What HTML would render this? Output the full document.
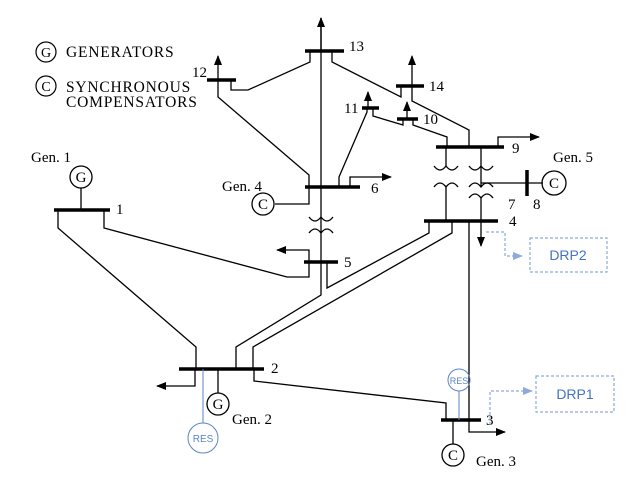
<!DOCTYPE html>
<html><head><style>html,body{margin:0;padding:0;background:#fff}svg{display:block}</style></head>
<body>
<svg width="632" height="496" viewBox="0 0 632 496" xmlns="http://www.w3.org/2000/svg" font-family="Liberation Serif, serif" font-size="13">
<defs>
<marker id="a" markerWidth="10" markerHeight="8" refX="9" refY="4" orient="auto" markerUnits="userSpaceOnUse"><path d="M0,0 L10,4 L0,8z" fill="#000"/></marker>
<marker id="b" markerWidth="10" markerHeight="8" refX="9" refY="4" orient="auto" markerUnits="userSpaceOnUse"><path d="M0,0 L10,4 L0,8z" fill="#8eaadb"/></marker>
</defs>
<!-- legend -->
<g fill="none" stroke="#000" stroke-width="1.2">
<circle cx="46" cy="52" r="10"/><circle cx="46" cy="86" r="10"/>
</g>
<text x="46" y="57" text-anchor="middle" font-size="14">G</text>
<text x="46" y="91" text-anchor="middle" font-size="14">C</text>
<g font-size="15.5" letter-spacing="0.8">
<text x="66" y="57">GENERATORS</text>
<text x="66" y="92">SYNCHRONOUS</text>
<text x="66" y="107">COMPENSATORS</text>
</g>
<!-- buses -->
<g stroke="#000" stroke-width="3.5">
<line x1="54" y1="210" x2="110" y2="210"/>
<line x1="179" y1="369" x2="264" y2="369"/>
<line x1="441" y1="420" x2="481" y2="420"/>
<line x1="424" y1="221" x2="498" y2="221"/>
<line x1="304" y1="262" x2="338" y2="262"/>
<line x1="305" y1="187" x2="360" y2="187"/>
<line x1="436" y1="147" x2="504" y2="147"/>
<line x1="397" y1="119" x2="418" y2="119"/>
<line x1="362" y1="108" x2="379" y2="108"/>
<line x1="207" y1="80" x2="236" y2="80"/>
<line x1="305" y1="51" x2="344" y2="51"/>
<line x1="396" y1="86" x2="424" y2="86"/>
<line x1="527" y1="170" x2="527" y2="196"/>
</g>
<g fill="none" stroke="#000" stroke-width="1.3">
<polyline points="58,210 58,228 196,347 196,369"/>
<polyline points="104,210 104,228 287,277 309,277 309,262"/>
<line x1="81" y1="188" x2="81" y2="210"/><circle cx="81" cy="177" r="11"/>
<line x1="218" y1="369" x2="218" y2="393"/><circle cx="218" cy="404" r="11"/>
<line x1="453" y1="420" x2="453" y2="444"/><circle cx="453" cy="455" r="11"/>
<polyline points="275,204 309,204 309,187"/><circle cx="263" cy="204" r="11"/>
<line x1="481" y1="183" x2="543" y2="183"/><circle cx="554" cy="183" r="12"/>
<polyline points="254,369 254,381 446,403 446,420"/>
<polyline points="469,221 469,432 505,432" marker-end="url(#a)"/>
<polyline points="195,369 195,386 157,386" marker-end="url(#a)"/>
<polyline points="321,18 321,295 236,347 236,369"/>
<polyline points="429,221 429,233 327,288 327,262"/>
<polyline points="452,221 452,233 253,347 253,369"/>
<polyline points="309,262 309,250 277,250" marker-end="url(#a)"/>
<line x1="481" y1="221" x2="481" y2="246" marker-end="url(#a)"/>
<line x1="321" y1="51" x2="321" y2="18" marker-end="url(#a)"/>
<polyline points="310,51 310,62 248,90 231,90 231,80"/>
<line x1="218" y1="80" x2="218" y2="56" marker-end="url(#a)"/>
<polyline points="218,80 218,97 309,175 309,187"/>
<polyline points="332,51 332,62 401,97 401,86"/>
<line x1="412" y1="86" x2="412" y2="56" marker-end="url(#a)"/>
<polyline points="412,86 412,101 469,130 469,147"/>
<line x1="368" y1="108" x2="368" y2="92" marker-end="url(#a)"/>
<polyline points="367,108 367,112 339,177 339,187"/>
<polyline points="373,108 373,116 403,125 403,119"/>
<line x1="407" y1="119" x2="407" y2="102" marker-end="url(#a)"/>
<polyline points="413,119 413,125 447,137 447,147"/>
<polyline points="350,187 350,177 391,177" marker-end="url(#a)"/>
<polyline points="498,147 498,137 539,137" marker-end="url(#a)"/>
<line x1="446" y1="147" x2="446" y2="166"/><line x1="446" y1="187" x2="446" y2="221"/>
<path d="M434,166 Q440,174 446,166 Q452,174 458,166"/>
<path d="M434,187 Q440,179 446,187 Q452,179 458,187"/>
<line x1="481" y1="147" x2="481" y2="166"/><line x1="481" y1="198" x2="481" y2="221"/>
<path d="M469,166 Q475,174 481,166 Q487,174 493,166"/>
<path d="M469,187 Q475,179 481,187 Q487,179 493,187"/>
<path d="M469,198 Q475,190 481,198 Q487,190 493,198"/>
<line x1="481" y1="166" x2="481" y2="187"/>
<path d="M309,217 Q315,225 321,217 Q327,225 333,217"/>
<path d="M309,233 Q315,225 321,233 Q327,225 333,233"/>
</g>
<g font-size="15">
<text x="31" y="162">Gen. 1</text>
<text x="116" y="214">1</text>
<text x="271" y="373">2</text>
<text x="232" y="424">Gen. 2</text>
<text x="486" y="425">3</text>
<text x="476" y="466">Gen. 3</text>
<text x="509" y="226">4</text>
<text x="344" y="267">5</text>
<text x="371" y="193">6</text>
<text x="222" y="191">Gen. 4</text>
<text x="508" y="209">7</text>
<text x="533" y="209">8</text>
<text x="512" y="153">9</text>
<text x="423" y="124">10</text>
<text x="344" y="113">11</text>
<text x="192" y="77">12</text>
<text x="349" y="51">13</text>
<text x="429" y="91">14</text>
<text x="553" y="162">Gen. 5</text>
</g>
<g font-size="15" text-anchor="middle">
<text x="81" y="182">G</text>
<text x="218" y="409">G</text>
<text x="453" y="460">C</text>
<text x="263" y="209">C</text>
<text x="554" y="188">C</text>
</g>
<g fill="none" stroke="#5b84c4" stroke-width="1">
<line x1="203" y1="369" x2="203" y2="423"/><circle cx="203" cy="438" r="15"/>
<line x1="459" y1="391" x2="459" y2="420"/><circle cx="459" cy="380" r="11"/>
</g>
<g fill="none" stroke="#8eaadb" stroke-width="1.2" stroke-dasharray="3,2">
<rect x="530" y="238" width="77" height="34"/>
<rect x="536" y="376" width="78" height="36"/>
<polyline points="486,232 505,232 505,256 522,256" marker-end="url(#b)"/>
<polyline points="490,425 490,391 532,391" marker-end="url(#b)"/>
</g>
<g font-family="Liberation Sans, sans-serif" fill="#4472c4" text-anchor="middle">
<text x="203" y="442" font-size="10" fill="#5b84c4">RES</text>
<text x="459" y="384" font-size="9" fill="#5b84c4">RES</text>
<text x="568" y="260" font-size="14">DRP2</text>
<text x="575" y="399" font-size="14">DRP1</text>
</g>
</svg>
</body></html>
